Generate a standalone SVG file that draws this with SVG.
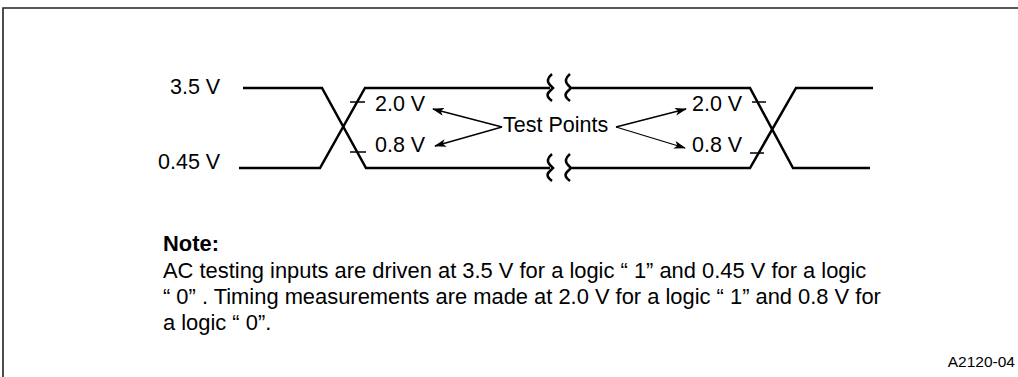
<svg xmlns="http://www.w3.org/2000/svg" width="1018" height="377" viewBox="0 0 1018 377">
<style>
.t{font-family:"Liberation Sans",Arial,sans-serif;fill:#000}
.lbl{font-size:21.5px}
.note{font-size:21.9px}
.w{fill:none;stroke:#000;stroke-width:2.5;stroke-linejoin:miter}
.tk{fill:none;stroke:#000;stroke-width:1.3}
.ar{fill:none;stroke:#000;stroke-width:1.3}
</style>
<defs>
<marker id="ah" markerWidth="12" markerHeight="8" refX="11" refY="4" orient="auto" markerUnits="userSpaceOnUse">
<path d="M0,0 L12,4 L0,8 L3,4 Z" fill="#000"/>
</marker>
</defs>
<rect width="1018" height="377" fill="#fff"/>
<path d="M3,377 V8 H1018" fill="none" stroke="#222" stroke-width="1.6"/>
<g id="waveform">
<path class="w" d="M243,88 H322 L366,168 H550"/>
<path class="w" d="M239,168 H320 L365,88 H550"/>
<path class="w" d="M572,88 H750 L793,168 H870"/>
<path class="w" d="M572,168 H750 L796,88 H873"/>
</g>
<g id="breaks">
<path class="w" d="M552,74 Q545,80 550,85 L553,88 L549,92 Q545,96 552,101"/>
<path class="w" d="M570,74 Q563,80 568,85 L571,88 L567,92 Q563,96 570,101"/>
<path class="w" d="M552,154 Q545,160 550,165 L553,168 L549,172 Q545,176 552,181"/>
<path class="w" d="M570,154 Q563,160 568,165 L571,168 L567,172 Q563,176 570,181"/>
</g>
<g id="ticks">
<path class="tk" d="M350,102 H365 M350,152 H366 M752,102 H766 M750,153 H764"/>
</g>
<g id="connectors">
<path class="ar" d="M502,127 L433,109" marker-end="url(#ah)"/>
<path class="ar" d="M502,127 L435,146" marker-end="url(#ah)"/>
<path class="ar" d="M616,127 L686,109" marker-end="url(#ah)"/>
<path class="ar" d="M616,127 L685,148" marker-end="url(#ah)"/>
</g>
<g id="labels">
<text class="t lbl" x="170" y="94">3.5 V</text>
<text class="t lbl" x="158" y="169">0.45 V</text>
<text class="t lbl" x="375" y="111">2.0 V</text>
<text class="t lbl" x="375" y="152">0.8 V</text>
<text class="t lbl" x="692" y="111">2.0 V</text>
<text class="t lbl" x="692" y="152">0.8 V</text>
</g>
<g id="test-points">
<text class="t lbl" x="503" y="132">Test Points</text>
</g>
<g id="note">
<text class="t note" x="163" y="251" font-weight="bold">Note:</text>
<text class="t note" x="163" y="278">AC testing inputs are driven at 3.5 V for a logic “ 1” and 0.45 V for a logic</text>
<text class="t note" x="163" y="304">“ 0” . Timing measurements are made at 2.0 V for a logic “ 1” and 0.8 V for</text>
<text class="t note" x="163" y="330">a logic “ 0”.</text>
</g>
<text class="t" x="1015" y="367" font-size="15.5" text-anchor="end">A2120-04</text>
</svg>
